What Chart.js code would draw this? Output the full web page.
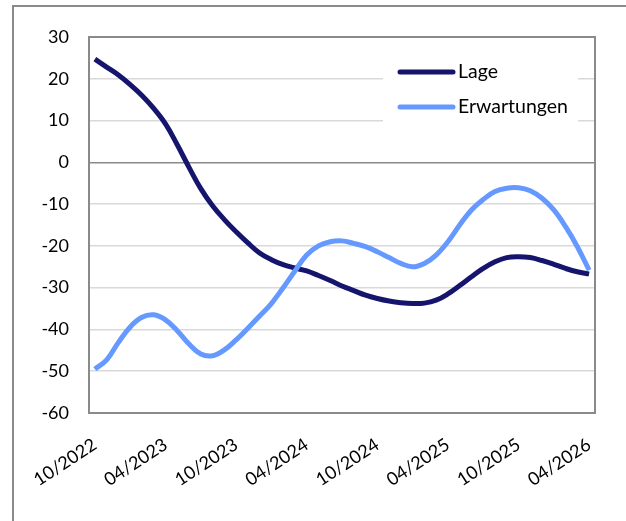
<!DOCTYPE html>
<html>
<head>
<meta charset="utf-8">
<script src="https://cdn.jsdelivr.net/npm/chart.js@4.4.1/dist/chart.umd.min.js"></script>
<style>
  body { margin: 0; background: #fff; }
  #frame { position: absolute; left: 12px; top: 5px; width: 700px; height: 600px; border: 2px solid #8a8a8a; }
  #wrap { position: absolute; left: 0; top: 0; width: 626px; height: 521px; }
</style>
</head>
<body>
<div id="frame"></div>
<div id="wrap"><canvas id="myChart"></canvas></div>
<script>
/* Lage / Erwartungen */

let months = [
  "10/2022", "11/2022", "12/2022",
  "01/2023", "02/2023", "03/2023", "04/2023", "05/2023", "06/2023",
  "07/2023", "08/2023", "09/2023", "10/2023", "11/2023", "12/2023",
  "01/2024", "02/2024", "03/2024", "04/2024", "05/2024", "06/2024",
  "07/2024", "08/2024", "09/2024", "10/2024", "11/2024", "12/2024",
  "01/2025", "02/2025", "03/2025", "04/2025", "05/2025", "06/2025",
  "07/2025", "08/2025", "09/2025", "10/2025", "11/2025", "12/2025",
  "01/2026", "02/2026", "03/2026", "04/2026"
];

let lage = [
  24.7, 22.8, 20.9, 18.6, 16.0, 12.9, 9.2, 4.2, -1.2, -6.3,
  -10.4, -13.7, -16.6, -19.3, -21.7, -23.3, -24.5, -25.3, -26.0, -27.1,
  -28.3, -29.6, -30.7, -31.8, -32.6, -33.2, -33.6, -33.8, -33.7, -33.0,
  -31.5, -29.5, -27.4, -25.4, -23.8, -22.8, -22.6, -22.8, -23.5, -24.4,
  -25.4, -26.2, -26.7
];

let erwartungen = [
  -49.5, -47.3, -43.1, -39.4, -37.1, -36.5, -37.7, -40.3, -43.5, -45.9,
  -46.3, -44.9, -42.5, -39.7, -36.8, -33.8, -30.0, -26.0, -22.2, -20.0,
  -19.0, -18.8, -19.4, -20.2, -21.4, -22.8, -24.2, -25.0, -24.2, -22.2,
  -19.0, -15.0, -11.4, -8.9, -7.0, -6.2, -6.1, -6.8, -8.6, -11.4,
  -15.4, -20.2, -25.8
];

let yMin = -60;
let yMax = 30;
let yStep = 10;
let labelEvery = 6;

let font_family = "Lato, 'Open Sans', sans-serif";

// frame round the plot area
let plotFrame = {
  id: "plotFrame",
  afterDraw(chart) {
    let ca = chart.chartArea;
    let ctx = chart.ctx;
    ctx.save();
    ctx.strokeStyle = "#8a8a8a";
    ctx.lineWidth = 2;
    ctx.strokeRect(ca.left, ca.top, ca.right - ca.left, ca.bottom - ca.top);
    ctx.restore();
  }
};

// legend drawn inside the plot, top right
let innerLegend = {
  id: "innerLegend",
  afterDraw(chart) {
    let ca = chart.chartArea;
    let ctx = chart.ctx;
    ctx.save();
    ctx.fillStyle = "#fff";
    ctx.fillRect(ca.right - 212, ca.top + 14, 195, 82);
    chart.data.datasets.forEach(function (ds, i) {
      let y = ca.top + 35 + i * 35;
      ctx.strokeStyle = ds.borderColor;
      ctx.lineWidth = 5;
      ctx.lineCap = "round";
      ctx.beginPath();
      ctx.moveTo(ca.right - 195, y);
      ctx.lineTo(ca.right - 142, y);
      ctx.stroke();
      ctx.fillStyle = "#000";
      ctx.font = "19.5px " + font_family;
      ctx.textBaseline = "middle";
      ctx.fillText(ds.label, ca.right - 137, y);
    });
    ctx.restore();
  }
};

new Chart("myChart", {
  type: "line",
  data: {
    labels: months,
    datasets: [
      {
        label: "Lage",
        data: lage,
        borderColor: "#15156e",
        borderWidth: 5,
        pointRadius: 0,
        tension: 0.4,
        order: 2
      },
      {
        label: "Erwartungen",
        data: erwartungen,
        borderColor: "#6699ff",
        borderWidth: 5,
        pointRadius: 0,
        tension: 0.4,
        order: 1
      }
    ]
  },
  options: {
    responsive: true,
    maintainAspectRatio: false,
    animation: false,
    layout: { padding: { top: 37, right: 31, left: 0, bottom: 0 } },
    plugins: {
      legend: { display: false },
      tooltip: { enabled: false }
    },
    scales: {
      x: {
        offset: true,
        grid: { display: false },
        border: { display: false },
        ticks: {
          autoSkip: false,
          maxRotation: 33,
          minRotation: 33,
          padding: 13,
          color: "#000",
          font: { family: font_family, size: 18 },
          callback: function (val, i) {
            return i % labelEvery === 0 ? months[i] : "";
          }
        },
        afterFit: function (scale) { scale.height = 108; }
      },
      y: {
        min: yMin,
        max: yMax,
        grid: {
          drawTicks: false,
          lineWidth: 1.5,
          color: function (c) { return c.tick.value === 0 ? "#8a8a8a" : "#d9d9d9"; }
        },
        border: { display: false },
        ticks: {
          stepSize: yStep,
          padding: 20,
          color: "#000",
          font: { family: font_family, size: 18 }
        },
        afterFit: function (scale) { scale.width = 89; }
      }
    }
  },
  plugins: [plotFrame, innerLegend]
});
</script>
</body>
</html>
